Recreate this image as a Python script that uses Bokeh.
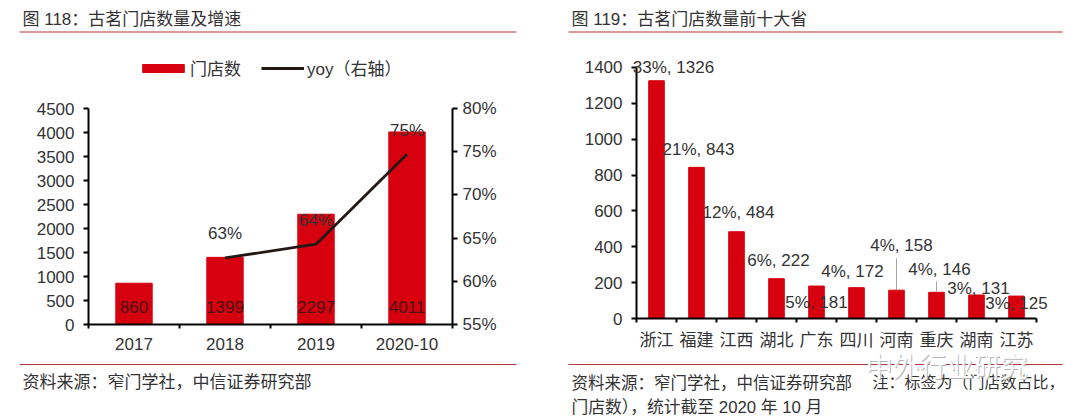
from bokeh.core.properties import value
from bokeh.embed import file_html
from bokeh.models import (BoxAnnotation, ColumnDataSource, FixedTicker, Label, LabelSet,
                          Legend, LegendItem, LinearAxis, NumeralTickFormatter, Range1d)
from bokeh.plotting import figure
from bokeh.resources import INLINE

# left chart
years = ["2017", "2018", "2019", "2020-10"]
stores = [860, 1399, 2297, 4011]
yoy_years = [1, 2, 3]
yoy = [0.627, 0.643, 0.747]
yoy_labels = ["63%", "64%", "75%"]

# right chart
provinces = ["浙江", "福建", "江西", "湖北", "广东", "四川", "河南", "重庆", "湖南", "江苏"]
province_stores = [1326, 843, 484, 222, 181, 172, 158, 146, 131, 125]
province_share = ["33%", "21%", "12%", "6%", "5%", "4%", "4%", "4%", "3%", "3%"]
leader_index = [6, 7]
leader_top = [336, 207]

# hand placed data labels of the right chart, in pixels from the bar top
nudge_x = [17, 2, 2, 2, 0, -4, 5, 3, 2, 0]
nudge_y = [13, 18, 19, 18, -16, 16, 45, 23, 7, -7]

RED = "#d7000f"
RULE = "#b3363a"
INK = "#333333"
FONT = "Liberation Sans, Noto Sans CJK SC"
HEIGHT = 410
LABEL_SIZE = "17px"


def base_figure(x_range, y_range, frame, left_page, right_page):
    # frame is (left, right, top, bottom) of the plot area in picture pixels
    left, right, top, bottom = frame
    fig = figure(width=right_page - left_page, height=HEIGHT, x_range=x_range, y_range=y_range,
                 output_backend="svg", toolbar_location=None,
                 min_border_left=left - left_page, min_border_right=right_page - right,
                 min_border_top=top - 8, min_border_bottom=8 + HEIGHT - bottom,
                 outline_line_color=None,
                 styles={"position": "absolute", "left": f"{left_page}px", "top": "8px"})
    fig.grid.grid_line_color = None
    return fig


def style_axis(axis):
    axis.axis_line_color = "black"
    axis.axis_line_width = 2
    axis.major_tick_line_color = "black"
    axis.major_tick_line_width = 2
    axis.major_tick_in = 0
    axis.major_tick_out = 5
    axis.minor_tick_line_color = None
    axis.major_label_text_font = FONT
    axis.major_label_text_font_size = LABEL_SIZE
    axis.major_label_text_color = INK


def style_x_axis(fig, labels):
    n = len(labels)
    centers = [i + 0.5 for i in range(n)]
    fig.xaxis.ticker = FixedTicker(ticks=centers, minor_ticks=list(range(n + 1)))
    fig.xaxis.major_label_overrides = dict(zip(centers, labels))
    style_axis(fig.xaxis[0])
    fig.xaxis.major_tick_line_color = None
    fig.xaxis.minor_tick_line_color = "black"
    fig.xaxis.minor_tick_line_width = 2
    fig.xaxis.minor_tick_in = 0
    fig.xaxis.minor_tick_out = 4
    fig.xaxis.major_label_standoff = 8


# ---- left chart
frame1 = (88, 452, 108, 324)
p1 = base_figure((0, 4), (0, 4500), frame1, 8, 520)
p1.extra_y_ranges = {"yoy": Range1d(0.55, 0.80)}
x_years = [i + 0.5 for i in range(len(years))]
p1.vbar(x=x_years, top=stores, width=0.4, color=RED)
yoy_x = [x_years[i] for i in yoy_years]
p1.line(yoy_x, yoy, y_range_name="yoy", line_color="#231815", line_width=2.8)

style_x_axis(p1, years)
p1.yaxis.ticker = FixedTicker(ticks=list(range(0, 4501, 500)))
style_axis(p1.yaxis[0])
p1.yaxis.major_label_standoff = 9
right_axis = LinearAxis(y_range_name="yoy", ticker=FixedTicker(ticks=[0.55, 0.60, 0.65, 0.70, 0.75, 0.80]),
                        formatter=NumeralTickFormatter(format="0%"))
style_axis(right_axis)
right_axis.major_label_standoff = 5
p1.add_layout(right_axis, "right")

p1.add_layout(LabelSet(x="x", y="y", text="t", y_range_name="yoy", y_offset=24,
                       source=ColumnDataSource(dict(x=yoy_x, y=yoy, t=yoy_labels)),
                       text_font=value(FONT), text_font_size=LABEL_SIZE, text_color=INK,
                       text_align="center", text_baseline="middle"))
p1.add_layout(LabelSet(x="x", y="y", text="t", y_offset=18,
                       source=ColumnDataSource(dict(x=x_years, y=[0] * 4, t=[str(v) for v in stores])),
                       text_font=value(FONT), text_font_size=LABEL_SIZE, text_color="#4a1014",
                       text_align="center", text_baseline="middle"))

# ---- right chart, the frame runs past the axes so that tick and data labels are not cut
frame2 = (580, 1060, 50, 352)
p2 = base_figure((-1.4, 10.6), (-189.6, 1494.7), frame2, 520, 1072)
x_prov = [i + 0.5 for i in range(len(provinces))]
p2.vbar(x=x_prov, top=province_stores, width=0.39, color=RED)
p2.segment(x0=[x_prov[i] for i in leader_index], x1=[x_prov[i] for i in leader_index],
           y0=[province_stores[i] for i in leader_index], y1=leader_top,
           line_color="#a6a6a6", line_width=1)

style_x_axis(p2, provinces)
p2.xaxis.bounds = (0, 10)
p2.xaxis.fixed_location = 0
p2.xaxis.major_label_standoff = 7
p2.yaxis.ticker = FixedTicker(ticks=list(range(0, 1401, 200)))
style_axis(p2.yaxis[0])
p2.yaxis.bounds = (0, 1400)
p2.yaxis.fixed_location = 0
p2.yaxis.major_label_standoff = 9

prov_labels = [f"{s}, {v}" for s, v in zip(province_share, province_stores)]
p2.add_layout(LabelSet(x="x", y="y", text="t", x_offset="dx", y_offset="dy",
                       source=ColumnDataSource(dict(x=x_prov, y=province_stores, t=prov_labels,
                                                    dx=nudge_x, dy=nudge_y)),
                       text_font=value(FONT), text_font_size=LABEL_SIZE, text_color=INK,
                       text_align="center", text_baseline="middle"))

# ---- titles, rules, notes and legend sit on a see-through sheet over the whole page,
# its ranges are picture pixels
sheet = figure(width=1064, height=HEIGHT, x_range=(8, 1072), y_range=(418, 8),
               x_axis_type=None, y_axis_type=None, output_backend="svg", toolbar_location=None,
               min_border=0, outline_line_color=None, background_fill_alpha=0, border_fill_alpha=0,
               styles={"position": "absolute", "left": "8px", "top": "8px"})
sheet.grid.grid_line_color = None


def page_text(x, y, text, size="17px", color=INK):
    sheet.add_layout(Label(x=x, y=y, text=text, text_font=FONT, text_font_size=size,
                           text_color=color, text_baseline="middle"))


def page_rule(x0, x1, y):
    sheet.add_layout(BoxAnnotation(left=x0, right=x1, top=y - 0.6, bottom=y + 0.6,
                                   fill_color=RULE, fill_alpha=1, line_color=None))


page_text(22, 19, "图 118：古茗门店数量及增速")
page_rule(19, 516, 31.5)
page_rule(19, 516, 364)
page_text(22, 382, "资料来源：窄门学社，中信证券研究部")

page_text(571, 19, "图 119：古茗门店数量前十大省")
page_rule(568, 1062, 31.5)
page_rule(568, 1062, 364)
page_text(571, 382, "资料来源：窄门学社，中信证券研究部", "16.5px")
page_text(872, 382, "注：标签为（门店数占比，", "16px")
page_text(571, 407, "门店数），统计截至 2020 年 10 月", "16.8px")
# wechat watermark over the rule
page_text(866, 368, "中外行业研究", "27px", "#b5b5b5")
page_text(865, 367, "中外行业研究", "27px", "#ffffff")

# the legend keys have no points of their own to show
bar_key = sheet.vbar(x=[float("nan")], top=[float("nan")], width=1, color=RED)
line_key = sheet.line(x=[float("nan")], y=[float("nan")], line_color="#231815", line_width=2.8)
sheet.add_layout(Legend(items=[LegendItem(label="门店数", renderers=[bar_key])], location=(129, 338),
                        glyph_width=52, glyph_height=10, label_text_font=FONT, label_text_font_size="17px",
                        label_text_color=INK, border_line_color=None, background_fill_alpha=0,
                        padding=0, margin=0, label_standoff=1))
sheet.add_layout(Legend(items=[LegendItem(label="yoy（右轴）", renderers=[line_key])], location=(253, 338),
                        glyph_width=43, glyph_height=10, label_text_font=FONT, label_text_font_size="17px",
                        label_text_color=INK, border_line_color=None, background_fill_alpha=0,
                        padding=0, margin=0, label_standoff=3))

open("out.html", "w").write(file_html((p1, p2, sheet), INLINE))
